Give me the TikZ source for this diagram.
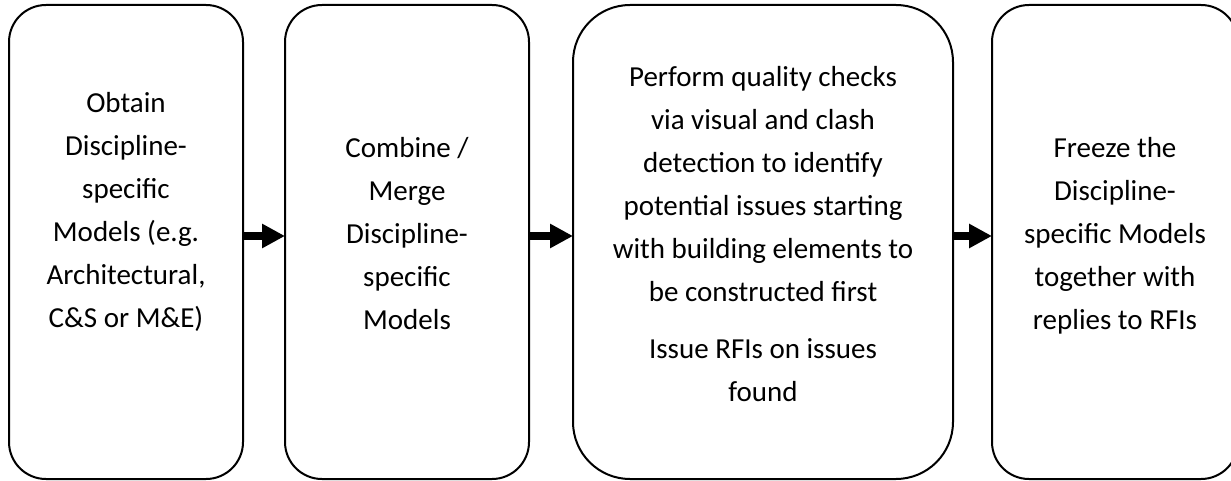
\documentclass[tikz,border=0pt]{standalone}
\usepackage{fontspec}
\setmainfont{Carlito}
\usetikzlibrary{arrows.meta, positioning}

\tikzset{
    stage/.style={draw, line width=2pt, inner sep=0pt, outer sep=0pt, minimum height=474pt, rounded corners=37pt},
    stagetext/.style={align=center, inner sep=0pt, font=\fontsize{29}{43}\selectfont},
    flow/.style={line width=8pt, -{Triangle[length=23pt, width=23pt]}}
}

\begin{document}
\begin{tikzpicture}[x=1pt, y=1pt]

    \useasboundingbox (0,0) rectangle (1231,480);

    \node[stage, minimum width=234pt] (obtain) at (126,238) {};
    \node[stage, minimum width=244pt, right=42pt of obtain] (merge) {};
    \node[stage, minimum width=380pt, rounded corners=57pt, right=44pt of merge] (check) {};
    \node[stage, minimum width=246pt, right=39pt of check] (freeze) {};

    \node[stagetext, below=76.9pt of obtain.north] (obtaintext) {\strut Obtain \\ Discipline- \\ specific \\ Models (e.g. \\ Architectural, \\ C\&S or M\&E)};
    \node[stagetext, below=121.9pt of merge.north] (mergetext) {\strut Combine / \\ Merge \\ Discipline- \\ specific \\ Models};
    \node[stagetext, below=50.9pt of check.north] (checktext) {\strut Perform quality checks \\ via visual and clash \\ detection to identify \\ potential issues starting \\ with building elements to \\ be constructed first \\[14pt] Issue RFIs on issues \\ found};
    \node[stagetext, below=121.9pt of freeze.north] (freezetext) {\strut Freeze the \\ Discipline- \\ specific Models \\ together with \\ replies to RFIs};

    \draw[flow] ([yshift=6pt] obtain.east) -- ([yshift=6pt] merge.west);
    \draw[flow] ([yshift=6pt] merge.east) -- ([yshift=6pt] check.west);
    \draw[flow] ([yshift=6pt] check.east) -- ([yshift=6pt] freeze.west);

\end{tikzpicture}
\end{document}
